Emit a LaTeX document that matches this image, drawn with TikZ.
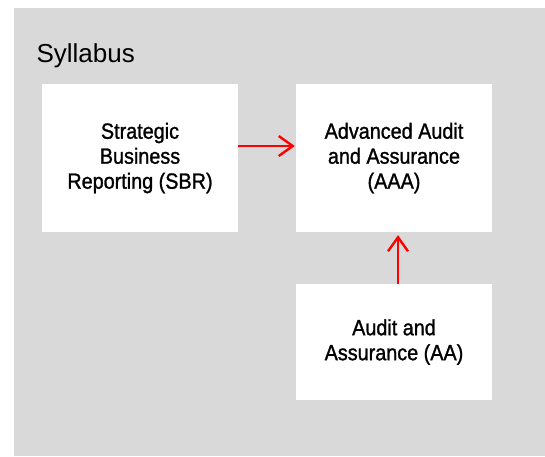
\documentclass[tikz,border=0pt]{standalone}
\usepackage{fontspec}
\setmainfont{Liberation Sans}
\newfontfamily\boxfont[FakeStretch=0.9, FakeBold=1.2]{Liberation Sans}
\usepackage{tikz}
\usetikzlibrary{arrows.meta}

\definecolor{panelgrey}{HTML}{D9D9D9}
\definecolor{arrowred}{HTML}{FF0000}

\begin{document}
\begin{tikzpicture}[x=1pt, y=-1pt,
  course/.style={fill=white, draw=none, align=center, font=\boxfont\fontsize{22}{25}\selectfont, inner sep=0pt},
  link/.style={arrowred, line width=2.4pt, -{Straight Barb[length=14pt, width=20pt, line width=2.4pt]}}]
% Page and grey panel
\useasboundingbox (0,0) rectangle (545,456);
\fill[panelgrey] (14,8) rectangle (545,456);

% Title
\node[anchor=base west, font=\fontsize{26}{30}\selectfont] (title) at (33,62) {Syllabus};

% Course boxes
\node[course, minimum width=196pt, minimum height=148pt] (sbr) at (140,158) {Strategic\\Business\\Reporting (SBR)};
\node[course, minimum width=196pt, minimum height=148pt] (aaa) at (394,158) {Advanced Audit\\and Assurance\\(AAA)};
\node[course, minimum width=196pt, minimum height=116pt] (aa) at (394,342) {Audit and\\Assurance (AA)};

% Arrows
\draw[link] ([yshift=12pt]sbr.east) -- ([yshift=12pt, xshift=-1pt]aaa.west);
\draw[link] ([xshift=4pt]aa.north) -- ([xshift=4pt, yshift=-3pt]aaa.south);
\end{tikzpicture}
\end{document}
